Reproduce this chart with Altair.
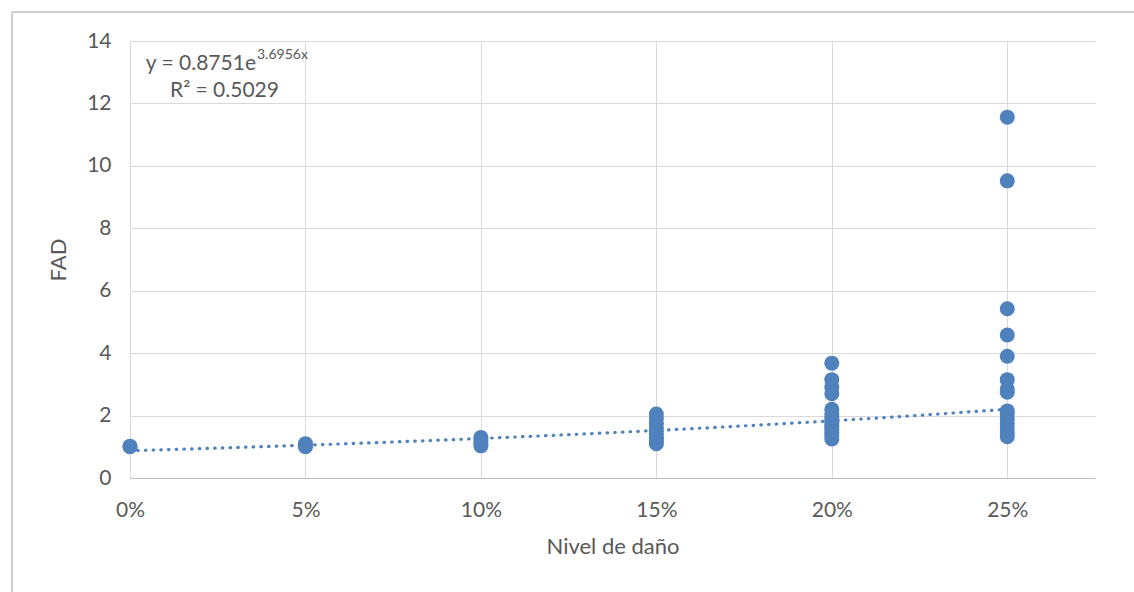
import altair as alt
import pandas as pd

# Damage levels (x) and FAD values
levels = [0.00, 0.05, 0.10, 0.15, 0.20, 0.25]
fad_0 = [1.0, 1.02]
fad_5 = [1.0, 1.05, 1.1]
fad_10 = [1.03, 1.1, 1.2, 1.3]
fad_15 = [1.1, 1.2, 1.3, 1.4, 1.5, 1.6, 1.75, 1.9, 2.05]
fad_20 = [1.25, 1.35, 1.45, 1.55, 1.65, 1.75, 1.85, 1.95, 2.05, 2.2, 2.7, 2.9, 3.15, 3.68]
fad_25 = [1.32, 1.45, 1.6, 1.75, 1.9, 2.05, 2.15, 2.75, 2.85, 3.15, 3.9, 4.58, 5.42, 9.52, 11.56]

# Trendline equation shown on the chart: y = a * e^(b x)
trend_a = 0.8751
trend_b = 3.6956
trend_range = [0.0, 0.25]

x_ticks = [0, 0.05, 0.10, 0.15, 0.20, 0.25]
y_ticks = [0, 2, 4, 6, 8, 10, 12, 14]

rows = []
for lv, vals in zip(levels, [fad_0, fad_5, fad_10, fad_15, fad_20, fad_25]):
    for v in vals:
        rows.append({"nivel": lv, "fad": v})
df = pd.DataFrame(rows)

FONT = "Lato"
BLUE = "#4F81BD"
GRID = "#D9D9D9"
TXT = "#595959"

x_scale = alt.Scale(domain=[0, 0.275], nice=False)
y_scale = alt.Scale(domain=[0, 14], nice=False)

x_enc = alt.X(
    "nivel:Q", scale=x_scale,
    axis=alt.Axis(values=x_ticks, format=".0%", title="Nivel de daño",
                  grid=True, gridColor=GRID, domainColor="#BFBFBF",
                  ticks=False, labelPadding=21, labelFontSize=21, labelColor=TXT,
                  labelFlush=False,
                  titleFontSize=22, titleColor=TXT, titleFontWeight="normal",
                  titlePadding=16, labelFont=FONT, titleFont=FONT))
y_enc = alt.Y(
    "fad:Q", scale=y_scale,
    axis=alt.Axis(values=y_ticks, title="FAD", grid=True, gridColor=GRID,
                  domain=False, ticks=False, labelPadding=19, labelFontSize=21,
                  labelColor=TXT, labelFlush=False, titleFontSize=22, titleColor=TXT,
                  titleFontWeight="normal", titlePadding=16,
                  labelFont=FONT, titleFont=FONT))

points = alt.Chart(df).mark_circle(size=225, opacity=1, color=BLUE).encode(
    x=x_enc, y=y_enc)

trend = alt.Chart(alt.sequence(trend_range[0], trend_range[1] + 0.0001, 0.005, as_="nivel")).transform_calculate(
    fad=f"{trend_a} * exp({trend_b} * datum.nivel)"
).mark_line(color=BLUE, strokeWidth=3.2, strokeDash=[0.5, 7.2], strokeCap="round").encode(
    x=alt.X("nivel:Q", scale=x_scale), y=alt.Y("fad:Q", scale=y_scale))

eq_main = alt.Chart(pd.DataFrame({"t": ["y = 0.8751e"]})).mark_text(
    align="right", baseline="middle", fontSize=21, font=FONT, color=TXT
).encode(x=alt.value(126), y=alt.value(23), text="t:N")
eq_sup = alt.Chart(pd.DataFrame({"t": ["3.6956x"]})).mark_text(
    align="left", baseline="middle", fontSize=14, font=FONT, color=TXT
).encode(x=alt.value(127), y=alt.value(14), text="t:N")
eq_r2 = alt.Chart(pd.DataFrame({"t": ["R² = 0.5029"]})).mark_text(
    align="left", baseline="middle", fontSize=21, font=FONT, color=TXT
).encode(x=alt.value(40), y=alt.value(50), text="t:N")

frame_top = alt.Chart(pd.DataFrame({"a": [0]})).mark_rule(color="#D0D0D0", strokeWidth=2).encode(
    x=alt.value(-118), x2=alt.value(1010), y=alt.value(-29))
frame_left = alt.Chart(pd.DataFrame({"a": [0]})).mark_rule(color="#D0D0D0", strokeWidth=2).encode(
    x=alt.value(-118), y=alt.value(-29), y2=alt.value(560))

chart = alt.layer(points, trend, eq_main, eq_sup, eq_r2, frame_top, frame_left).properties(
    width=965, height=437,
    autosize=alt.AutoSizeParams(type="none"),
    padding={"left": 130, "top": 41, "right": 39, "bottom": 114},
    background="white",
).configure_view(stroke=None)

chart.save("out.html", embed_options={"renderer": "svg", "actions": False})
